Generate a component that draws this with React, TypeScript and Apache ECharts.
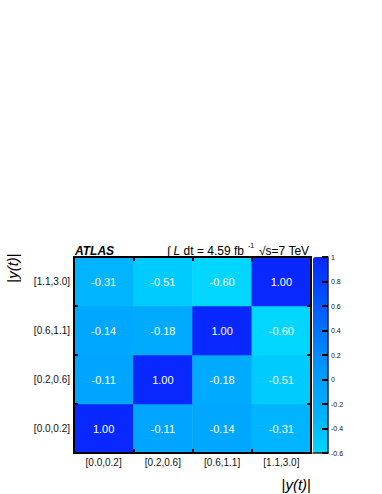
import React, { useEffect, useRef } from "react";
import * as echarts from "echarts";

const xCategories = ["[0.0,0.2]", "[0.2,0.6]", "[0.6,1.1]", "[1.1,3.0]"];
const yCategories = ["[0.0,0.2]", "[0.2,0.6]", "[0.6,1.1]", "[1.1,3.0]"];
// rows bottom to top, columns left to right
const row0 = [1.0, -0.11, -0.14, -0.31];
const row1 = [-0.11, 1.0, -0.18, -0.51];
const row2 = [-0.14, -0.18, 1.0, -0.6];
const row3 = [-0.31, -0.51, -0.6, 1.0];
const rows = [row0, row1, row2, row3];
const colorStops = ["#00d6ff", "#00b0ff", "#009cff", "#0078ff", "#0050ff", "#0828ff"];

export default function App() {
  const ref = useRef<HTMLDivElement>(null);
  useEffect(() => {
    if (!ref.current) return;
    const chart = echarts.init(ref.current, null, { renderer: "svg" });
    const data: [number, number, number][] = [];
    rows.forEach((r, yi) => r.forEach((v, xi) => data.push([xi, yi, v])));
    const font = "Liberation Sans, Arial, Helvetica, sans-serif";
    const frameAxis = (extra: any) => ({
      type: "category",
      data: xCategories,
      z: 5,
      axisLine: { show: true, onZero: false, lineStyle: { color: "#000", width: 2 } },
      axisTick: { show: true, inside: true, length: 4, lineStyle: { color: "#000", width: 2 } },
      splitLine: { show: false },
      ...extra,
    });
    chart.setOption({
      animation: false,
      backgroundColor: "#fff",
      grid: [
        { left: 74, top: 257, width: 237, height: 196 },
        { left: 313, top: 257, width: 15, height: 196 },
      ],
      xAxis: [
        frameAxis({
          gridIndex: 0,
          position: "bottom",
          axisLabel: { color: "#111", fontSize: 10, fontFamily: font, margin: 4 },
        }),
        frameAxis({ gridIndex: 0, position: "top", axisLabel: { show: false } }),
        {
          type: "value",
          gridIndex: 1,
          position: "bottom",
          min: 0,
          max: 1,
          z: 5,
          axisLine: { show: true, onZero: false, lineStyle: { color: "#222", width: 1.5 } },
          axisTick: { show: false },
          axisLabel: { show: false },
          splitLine: { show: false },
        },
      ],
      yAxis: [
        frameAxis({
          gridIndex: 0,
          data: yCategories,
          position: "left",
          axisLabel: { color: "#111", fontSize: 10, fontFamily: font, margin: 4 },
        }),
        frameAxis({ gridIndex: 0, data: yCategories, position: "right", axisLabel: { show: false } }),
        {
          type: "value",
          gridIndex: 1,
          position: "right",
          min: -0.6,
          max: 1,
          interval: 0.2,
          z: 5,
          axisLine: { show: true, onZero: false, lineStyle: { color: "#222", width: 1.5 } },
          axisTick: { show: true, inside: true, length: 6, lineStyle: { color: "#000", width: 2 } },
          axisLabel: {
            color: "#111",
            fontSize: 7,
            fontFamily: font,
            margin: 3,
            formatter: (v: number) => String(Math.round(v * 10) / 10),
          },
          splitLine: { show: false },
        },
      ],
      visualMap: {
        type: "continuous",
        min: -0.6,
        max: 1,
        seriesIndex: 0,
        show: true,
        calculable: false,
        orient: "vertical",
        left: 313,
        top: 257,
        itemWidth: 15,
        itemHeight: 196,
        padding: 0,
        z: 1,
        inRange: { color: colorStops },
      },
      series: [
        {
          type: "heatmap",
          xAxisIndex: 0,
          yAxisIndex: 0,
          z: 1,
          data,
          label: {
            show: true,
            color: "#fff",
            fontSize: 11,
            fontFamily: font,
            formatter: (p: any) => Number(p.value[2]).toFixed(2),
          },
          itemStyle: { borderWidth: 0 },
        },
      ],
      graphic: [
        {
          type: "text",
          x: 75,
          y: 245,
          style: { text: "ATLAS", font: `italic bold 12px ${font}`, fill: "#000" },
        },
        {
          type: "text",
          x: 167,
          y: 245,
          style: {
            text: "{n|∫ }{i|L}{n| dt = 4.59 fb}",
            rich: {
              n: { font: `12px ${font}`, fill: "#000" },
              i: { font: `italic 12px ${font}`, fill: "#000" },
            },
          },
        },
        {
          type: "text",
          x: 248,
          y: 242,
          style: { text: "-1", font: `7px ${font}`, fill: "#000" },
        },
        {
          type: "text",
          x: 259,
          y: 245,
          style: { text: "√s=7 TeV", font: `12px ${font}`, fill: "#000" },
        },
        {
          type: "text",
          x: 12,
          y: 268,
          rotation: Math.PI / 2,
          style: {
            text: "|{i|y(t)}|",
            font: `15px ${font}`,
            fill: "#000",
            align: "center",
            verticalAlign: "middle",
            rich: { i: { font: `italic 15px ${font}`, fill: "#000" } },
          },
        },
        {
          type: "text",
          x: 311,
          y: 484,
          style: {
            text: "|{i|y(t)}|",
            font: `15px ${font}`,
            fill: "#000",
            align: "right",
            verticalAlign: "middle",
            rich: { i: { font: `italic 15px ${font}`, fill: "#000" } },
          },
        },
      ],
    });
    return () => chart.dispose();
  }, []);
  return (
    <div
      ref={ref}
      style={{ position: "absolute", left: 0, top: 0, width: 382, height: 494, overflow: "hidden" }}
    />
  );
}
